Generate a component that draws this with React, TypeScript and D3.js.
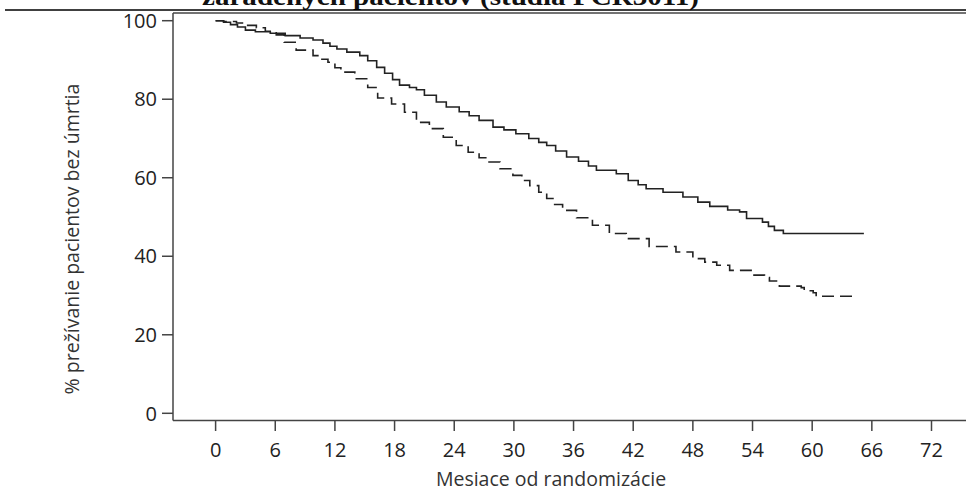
import * as d3 from 'd3';

// Kaplan-Meier estimates (months, % alive)
const solidMonths = [0, 0.8, 1.5, 2.2, 3, 4, 5.5, 7, 8.5, 9.8, 10.8, 11.5, 12.2, 13.2, 14.5, 15.3, 16.2, 17, 17.8, 18.5, 19.5, 20.2, 21, 22.2, 23.2, 24.5, 25.5, 26.5, 27.9, 29, 30.2, 31.5, 32.5, 33.3, 34.2, 35.3, 36.5, 37.5, 38.3, 40.3, 41.5, 42.5, 43.3, 45, 47, 48.5, 49.7, 51.5, 52.7, 53.4, 55, 55.6, 56.2, 57.1, 65.2];
const solidSurv = [100, 99.6, 99, 98.4, 97.6, 97.2, 96.8, 96.2, 95.6, 95.1, 94.3, 93.5, 92.8, 92, 91.1, 89.8, 88.1, 86.6, 85, 83.6, 83, 82.4, 81, 79.3, 78, 76.8, 75.8, 74.6, 72.9, 72.2, 71.2, 70, 69, 68.2, 66.8, 65.3, 64.2, 63, 61.9, 61, 59.3, 58.2, 57.2, 56.3, 55.1, 53.8, 52.7, 51.8, 51.3, 49.6, 48.7, 47.6, 46.6, 45.8, 45.8];

const dashedMonths = [0, 0.8, 2.1, 3, 4.1, 5, 6.1, 6.9, 8.1, 9.8, 10.5, 11.3, 12, 12.6, 14, 15.3, 16.3, 17.7, 19, 20.2, 21.5, 22.9, 24.2, 25.4, 26.5, 27.5, 28.6, 29.9, 30.8, 31.6, 32.5, 33.3, 34.1, 34.9, 36.3, 37.9, 39.6, 41.3, 43.6, 46.3, 48, 49.2, 50.4, 51.7, 54, 55.2, 55.7, 56.7, 58.9, 59.2, 60.1, 60.4, 64.6];
const dashedSurv = [100, 99.8, 99.4, 98.8, 98.2, 97.3, 96.4, 94.5, 92.5, 91.1, 90.2, 89.4, 88, 86.9, 85.2, 83, 80.3, 78.8, 76.7, 74.1, 72.5, 70.3, 68.2, 66.5, 65.1, 64, 62.3, 60.6, 59.3, 58, 56.3, 54.7, 53.2, 51.7, 49.8, 47.9, 45.8, 44.5, 42.5, 41.1, 39.4, 38.5, 37.7, 36.4, 35.2, 34.6, 33.7, 32.4, 32, 31.2, 30.7, 29.8, 29.8];

const xTicks = [0, 6, 12, 18, 24, 30, 36, 42, 48, 54, 60, 66, 72];
const yTicks = [0, 20, 40, 60, 80, 100];

const titleText = 'zaradených pacientov (štúdia PCR3011)';
const yTitle = '% prežívanie pacientov bez úmrtia';
const xTitle = 'Mesiace od randomizácie';

const W = 966;
const H = 493;
const axisLeft = 173;
const axisBottom = 420.5;
const frameTop = 13;

export default function App() {
  const x = d3.scaleLinear().domain([0, 72]).range([215.6, 931.5]);
  const y = d3.scaleLinear().domain([0, 100]).range([413.3, 20.7]);

  const line = d3
    .line<[number, number]>()
    .curve(d3.curveStepAfter)
    .x((d) => x(d[0]))
    .y((d) => y(d[1]));

  const solid = solidMonths.map((m, i) => [m, solidSurv[i]] as [number, number]);
  const dashed = dashedMonths.map((m, i) => [m, dashedSurv[i]] as [number, number]);

  const font = '"Open Sans", "Noto Sans", sans-serif';
  const axisColor = '#444';

  return (
    <svg
      width={W}
      height={H}
      style={{ position: 'absolute', left: 0, top: 0, background: '#fff' }}
    >
      {/* title, cut off by the top of the page as in the source */}
      <text
        x={202}
        y={5}
        fontFamily='"Liberation Serif", "Times New Roman", serif'
        fontWeight="bold"
        fontSize={26}
        textLength={497}
        lengthAdjust="spacingAndGlyphs"
        fill="#111"
      >
        {titleText}
      </text>
      <line x1={5} x2={W} y1={10} y2={10} stroke="#000" strokeWidth={1.5} />

      {/* frame */}
      <line x1={axisLeft} x2={W} y1={frameTop} y2={frameTop} stroke={axisColor} strokeWidth={1.5} />
      <line x1={axisLeft} x2={axisLeft} y1={frameTop} y2={axisBottom} stroke={axisColor} strokeWidth={1.5} />
      <line x1={axisLeft} x2={W} y1={axisBottom} y2={axisBottom} stroke={axisColor} strokeWidth={1.5} />

      {/* y axis */}
      {yTicks.map((t) => (
        <g key={t}>
          <line x1={162} x2={axisLeft} y1={y(t)} y2={y(t)} stroke={axisColor} strokeWidth={1.5} />
          <text
            x={157}
            y={y(t)}
            dy="0.36em"
            textAnchor="end"
            fontFamily={font}
            fontSize={20}
            fill="#222"
          >
            {t}
          </text>
        </g>
      ))}
      <text
        transform={`translate(72,239) rotate(-90)`}
        textAnchor="middle"
        dy="0.35em"
        fontFamily={font}
        fontSize={19.5}
        fill="#333"
      >
        {yTitle}
      </text>

      {/* x axis */}
      {xTicks.map((t) => (
        <g key={t}>
          <line x1={x(t)} x2={x(t)} y1={axisBottom} y2={431} stroke={axisColor} strokeWidth={1.5} />
          <text
            x={x(t)}
            y={450}
            dy="0.36em"
            textAnchor="middle"
            fontFamily={font}
            fontSize={20}
            fill="#222"
          >
            {t}
          </text>
        </g>
      ))}
      <text
        x={551}
        y={479}
        dy="0.35em"
        textAnchor="middle"
        fontFamily={font}
        fontSize={19.5}
        fill="#333"
      >
        {xTitle}
      </text>

      {/* curves */}
      <path d={line(solid) ?? ''} fill="none" stroke="#222" strokeWidth={1.6} />
      <path
        d={line(dashed) ?? ''}
        fill="none"
        stroke="#222"
        strokeWidth={1.6}
        strokeDasharray="12,6"
      />
    </svg>
  );
}
